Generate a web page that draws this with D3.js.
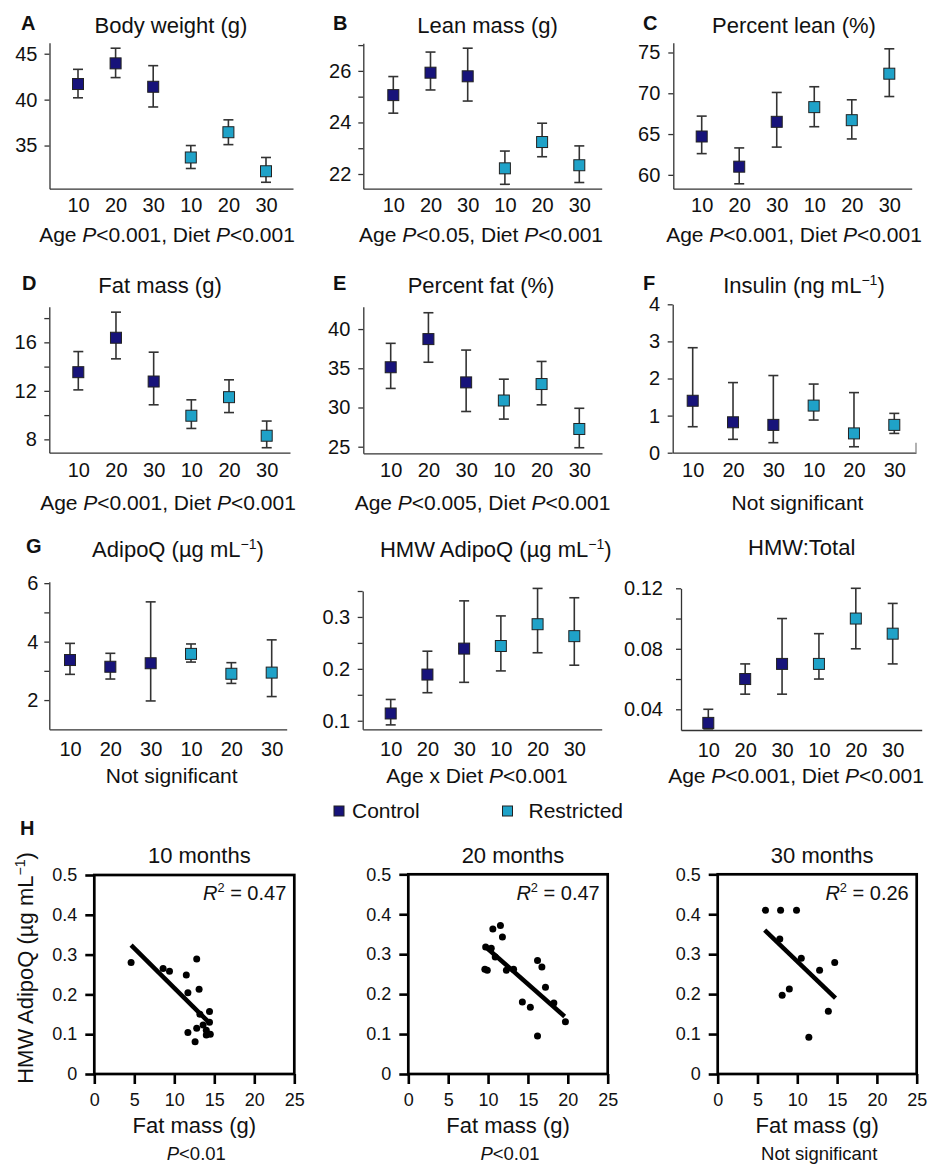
<!DOCTYPE html>
<html>
<head>
<meta charset="utf-8">
<script src="https://cdn.jsdelivr.net/npm/d3@7"></script>
<style>
  body { margin: 0; background: #fff; }
  svg { display: block; font-family: "Liberation Sans", Arial, sans-serif; }
</style>
</head>
<body>
<svg id="fig" width="928" height="1164"></svg>
<script>
// ---- data ----
const ageLabels = ['10', '20', '30', '10', '20', '30'];
const groupOf = ['Control', 'Control', 'Control', 'Restricted', 'Restricted', 'Restricted'];
const groups = ['Control', 'Restricted'];

// rows: [mean, lower, upper]  order: Control 10/20/30, Restricted 10/20/30
const bodyWeight = [[41.7, 40.2, 43.3], [43.95, 42.4, 45.6], [41.4, 39.2, 43.7], [33.7, 32.5, 35.0], [36.45, 35.1, 37.8], [32.2, 31.0, 33.7]];
const leanMass = [[25.06, 24.36, 25.78], [25.93, 25.26, 26.73], [25.79, 24.83, 26.88], [22.22, 21.6, 22.89], [23.24, 22.67, 23.97], [22.34, 21.67, 23.09]];
const percentLean = [[64.7, 62.6, 67.2], [61.0, 58.9, 63.3], [66.5, 63.4, 70.1], [68.3, 65.9, 70.8], [66.7, 64.4, 69.2], [72.4, 69.6, 75.45]];
const fatMass = [[13.54, 12.08, 15.24], [16.38, 14.64, 18.49], [12.77, 10.85, 15.19], [9.95, 8.9, 11.26], [11.48, 10.21, 12.91], [8.3, 7.31, 9.51]];
const percentFat = [[35.13, 32.43, 38.18], [38.72, 35.77, 42.08], [33.2, 29.49, 37.32], [30.89, 28.52, 33.61], [32.99, 30.34, 35.87], [27.26, 24.87, 29.9]];
const insulin = [[1.40, 0.70, 2.83], [0.82, 0.36, 1.89], [0.75, 0.27, 2.08], [1.27, 0.88, 1.85], [0.52, 0.16, 1.62], [0.75, 0.52, 1.06]];
const adipoQ = [[3.37, 2.88, 3.94], [3.14, 2.72, 3.6], [3.26, 1.97, 5.36], [3.58, 3.3, 3.92], [2.9, 2.57, 3.28], [2.94, 2.12, 4.06]];
const hmwAdipoQ = [[0.114, 0.092, 0.141], [0.189, 0.154, 0.234], [0.239, 0.174, 0.331], [0.244, 0.196, 0.302], [0.286, 0.231, 0.355], [0.263, 0.207, 0.337]];
const hmwTotal = [[0.031, 0.027, 0.04], [0.06, 0.05, 0.07], [0.07, 0.05, 0.1], [0.07, 0.06, 0.09], [0.1, 0.08, 0.12], [0.09, 0.07, 0.11]];

// y tick labels
const ticksA = [35, 40, 45];
const ticksB = [22, 24, 26], minorB = [23, 25, 27];
const ticksC = [60, 65, 70, 75];
const ticksD = [8, 12, 16], minorD = [10, 14, 18];
const ticksE = [25, 30, 35, 40];
const ticksF = [0, 1, 2, 3, 4];
const ticksG = [2, 4, 6], minorG = [3, 5];
const ticksHmw = [0.1, 0.2, 0.3], minorHmw = [0.15, 0.25, 0.35];
const ticksRatio = [0.04, 0.08, 0.12], minorRatio = [0.06, 0.10];

// panel H: fat mass (g) vs HMW AdipoQ
const fatTicks = [0, 5, 10, 15, 20, 25];
const hmwTicks = [0, 0.1, 0.2, 0.3, 0.4, 0.5];
const months = ['10 months', '20 months', '30 months'];
const r2Values = ['0.47', '0.47', '0.26'];
const scatter10 = [[4.6, 0.28], [8.6, 0.265], [9.4, 0.258], [11.5, 0.249], [12.8, 0.289], [11.7, 0.204], [13.1, 0.213], [14.4, 0.157],
  [11.7, 0.104], [12.8, 0.115], [12.6, 0.081], [13.6, 0.123], [14.0, 0.098], [14.5, 0.100], [14.4, 0.13], [14.0, 0.11], [13.2, 0.15]];
const scatter20 = [[9.6, 0.262], [9.9, 0.26], [10.6, 0.363], [11.55, 0.372], [11.8, 0.343], [9.7, 0.318], [10.4, 0.315], [10.9, 0.293],
  [12.3, 0.26], [13.2, 0.262], [14.3, 0.18], [15.3, 0.167], [16.2, 0.284], [16.75, 0.268], [17.2, 0.217], [18.25, 0.178], [16.2, 0.095], [19.7, 0.131]];
const scatter30 = [[6.0, 0.41], [7.9, 0.41], [9.9, 0.41], [7.8, 0.338], [10.5, 0.29], [12.8, 0.26], [14.7, 0.279], [8.1, 0.197],
  [9.0, 0.213], [13.9, 0.157], [11.45, 0.092]];
const fit10 = [[4.6, 0.324], [14.46, 0.127]];
const fit20 = [[9.6, 0.32], [19.6, 0.144]];
const fit30 = [[5.9, 0.36], [14.8, 0.19]];

// ---- styling ----
const colors = { Control: '#17137a', Restricted: '#1fa2c8' };
const ink = '#111';
const axisCol = '#333';

const svg = d3.select('#fig');

// text with italic / superscript pieces
function rich(text, segs) {
  let shift = 0;
  segs.forEach(s => {
    const t = text.append('tspan');
    if (shift) { t.attr('dy', shift); shift = 0; }
    if (typeof s === 'string') t.text(s);
    else if (s[1] === 'i') t.attr('font-style', 'italic').text(s[0]);
    else if (s[1] === 'sup') { t.attr('font-size', '0.64em').attr('dy', -8).text(s[0]); shift = 8; }
  });
  return text;
}

const ageDiet = (a, d) => ['Age ', ['P', 'i'], '<' + a + ', Diet ', ['P', 'i'], '<' + d];

const panels = [
  { letter: 'A', title: ['Body weight (g)'], cap: ageDiet('0.001', '0.001'), data: bodyWeight, ticks: ticksA, minor: [],
    domain: [30.3, 46.2], ax: 49.5, ex: 293, top: 42.7, bot: 188.7, p0: 78, p1: 266, tx: 171, ty: 33, lx: 21, cx: 167, cy: 241.7, tickDy: 23.5, gap: 12 },
  { letter: 'B', title: ['Lean mass (g)'], cap: ageDiet('0.05', '0.001'), data: leanMass, ticks: ticksB, minor: minorB,
    domain: [21.43, 27.07], ax: 363.3, ex: 601.7, top: 43.3, bot: 188.7, p0: 393.3, p1: 579.3, tx: 487.5, ty: 33, lx: 333, cx: 481, cy: 241.7, tickDy: 23.5, gap: 12 },
  { letter: 'C', title: ['Percent lean (%)'], cap: ageDiet('0.001', '0.001'), data: percentLean, ticks: ticksC, minor: [],
    domain: [58.3, 76.2], ax: 673.3, ex: 911.7, top: 42.7, bot: 188.7, p0: 701.7, p1: 889.3, tx: 794, ty: 33, lx: 643, cx: 794, cy: 241.7, tickDy: 23.5, gap: 13 },
  { letter: 'D', title: ['Fat mass (g)'], cap: ageDiet('0.001', '0.001'), data: fatMass, ticks: ticksD, minor: minorD,
    domain: [6.9, 18.94], ax: 49.3, ex: 290, top: 306.7, bot: 452.7, p0: 78.3, p1: 266.7, tx: 160, ty: 293, lx: 22, cx: 168, cy: 510, tickDy: 24, gap: 12.5 },
  { letter: 'E', title: ['Percent fat (%)'], cap: ageDiet('0.005', '0.001'), data: percentFat, ticks: ticksE, minor: [],
    domain: [24.16, 42.85], ax: 363.3, ex: 602, top: 306.7, bot: 453.3, p0: 390.7, p1: 579.3, tx: 481, ty: 293, lx: 333, cx: 482.5, cy: 510, tickDy: 24, gap: 13 },
  { letter: 'F', title: ['Insulin (ng mL', ['\u22121', 'sup'], ')'], cap: ['Not significant'], data: insulin, ticks: ticksF, minor: [],
    domain: [0, 4], ax: 672.7, ex: 916, top: 304.3, bot: 452.7, p0: 692.7, p1: 894.3, tx: 804, ty: 293, lx: 643, cx: 797.5, cy: 510, tickDy: 24, gap: 12.5, stub: true },
  { letter: 'G', title: ['AdipoQ (\u00b5g mL', ['\u22121', 'sup'], ')'], cap: ['Not significant'], data: adipoQ, ticks: ticksG, minor: minorG,
    domain: [1, 6.05], ax: 49.3, ex: 286.7, top: 581.7, bot: 729.3, p0: 70, p1: 271.7, tx: 178, ty: 556.7, lx: 26, cx: 171.7, cy: 782.7, tickDy: 27, gap: 11 },
  { letter: '', title: ['HMW AdipoQ (\u00b5g mL', ['\u22121', 'sup'], ')'], cap: ['Age x Diet ', ['P', 'i'], '<0.001'], data: hmwAdipoQ, ticks: ticksHmw, minor: minorHmw,
    domain: [0.0835, 0.35], ax: 362.7, ex: 601.7, top: 591, bot: 729.3, p0: 390.7, p1: 574.3, tx: 495.8, ty: 556.7, lx: 0, cx: 477, cy: 782.7, tickDy: 27, gap: 12.5 },
  { letter: '', title: ['HMW:Total'], cap: ageDiet('0.001', '0.001'), data: hmwTotal, ticks: ticksRatio, minor: minorRatio,
    domain: [0.0263, 0.12], ax: 681, ex: 921.7, top: 588.3, bot: 730, p0: 708.3, p1: 892.7, tx: 801.7, ty: 555, lx: 0, cx: 796, cy: 782.7, tickDy: 27, gap: 18 }
];

panels.forEach(p => {
  const g = svg.append('g');
  const x = d3.scalePoint().domain(d3.range(p.data.length)).range([p.p0, p.p1]);
  const y = d3.scaleLinear().domain(p.domain).range([p.bot, p.top]);
  const fmt = d3.format('~g');

  // y axis with labelled ticks
  const yG = g.append('g').attr('transform', `translate(${p.ax},0)`)
    .call(d3.axisLeft(y).tickValues(p.ticks).tickSize(5).tickSizeOuter(0).tickPadding(p.gap - 5)
      .tickFormat(d => p.ticks === ticksRatio ? d3.format('.2f')(d) : fmt(d)));
  // minor ticks
  if (p.minor.length) {
    const mG = g.append('g').attr('transform', `translate(${p.ax},0)`)
      .call(d3.axisLeft(y).tickValues(p.minor).tickSize(5).tickFormat(''));
    mG.select('.domain').remove();
    mG.selectAll('line').attr('stroke', axisCol).attr('stroke-width', 1.3);
  }
  // x baseline
  const xLine = d3.scaleLinear().range([p.ax, p.ex]);
  const bG = g.append('g').attr('transform', `translate(0,${p.bot})`)
    .call(d3.axisBottom(xLine).tickValues([]).tickSizeOuter(0));
  // age labels
  const xG = g.append('g').attr('transform', `translate(0,${p.bot})`)
    .call(d3.axisBottom(x).tickSize(0).tickPadding(p.tickDy - 14.2).tickFormat(i => ageLabels[i]));
  xG.select('.domain').remove();

  [yG, bG, xG].forEach(a => {
    a.attr('font-family', null).attr('font-size', null);
    a.selectAll('.domain, line').attr('stroke', axisCol).attr('stroke-width', 1.3);
    a.selectAll('text').attr('font-size', 20).attr('fill', ink);
  });

  if (p.stub) {
    g.append('line').attr('x1', p.ex).attr('x2', p.ex).attr('y1', p.bot).attr('y2', p.bot - 10)
      .attr('stroke', '#888').attr('stroke-width', 1.3);
  }

  // error bars + squares
  const pt = g.selectAll('.pt').data(p.data).join('g').attr('class', 'pt')
    .attr('transform', (d, i) => `translate(${x(i)},0)`);
  pt.append('line').attr('y1', d => y(d[1])).attr('y2', d => y(d[2]))
    .attr('stroke', axisCol).attr('stroke-width', 1.6);
  pt.selectAll('.cap').data(d => [d[1], d[2]]).join('line').attr('class', 'cap')
    .attr('x1', -5).attr('x2', 5).attr('y1', v => y(v)).attr('y2', v => y(v))
    .attr('stroke', axisCol).attr('stroke-width', 1.6);
  pt.append('rect').attr('x', -5.5).attr('y', d => y(d[0]) - 5.5).attr('width', 11).attr('height', 11)
    .attr('fill', (d, i) => colors[groupOf[i]]).attr('stroke', '#222').attr('stroke-width', 1);

  // titles, panel letter, caption
  rich(g.append('text').attr('x', p.tx).attr('y', p.ty).attr('text-anchor', 'middle')
    .attr('font-size', 22).attr('fill', ink), p.title);
  if (p.letter) {
    g.append('text').attr('x', p.lx).attr('y', p.ty - 3.5).attr('font-size', 20).attr('font-weight', 'bold')
      .attr('fill', ink).text(p.letter);
  }
  rich(g.append('text').attr('x', p.cx).attr('y', p.cy).attr('text-anchor', 'middle')
    .attr('font-size', 21).attr('fill', ink), p.cap);
});

// ---- legend ----
const legendPos = [{ sx: 334, tx: 352 }, { sx: 502.5, tx: 528.5 }];
groups.forEach((gr, i) => {
  svg.append('rect').attr('x', legendPos[i].sx).attr('y', 806).attr('width', 10).attr('height', 10)
    .attr('fill', colors[gr]).attr('stroke', '#222').attr('stroke-width', 1);
  svg.append('text').attr('x', legendPos[i].tx).attr('y', 817.5).attr('font-size', 21).attr('fill', ink).text(gr);
});

// ---- panel H ----
const hPanels = [
  { l: 94.3, r: 294.3, t: 875, b: 1074, pts: scatter10, fit: fit10, cap: [['P', 'i'], '<0.01'] },
  { l: 408.3, r: 607.7, t: 874.3, b: 1074, pts: scatter20, fit: fit20, cap: [['P', 'i'], '<0.01'] },
  { l: 717.7, r: 916.7, t: 874.3, b: 1074, pts: scatter30, fit: fit30, cap: ['Not significant'] }
];

hPanels.forEach((h, k) => {
  const g = svg.append('g');
  const x = d3.scaleLinear().domain([0, 25]).range([h.l, h.r]);
  const y = d3.scaleLinear().domain([0, 0.5]).range([h.b, h.t]);
  const cx = (h.l + h.r) / 2;

  const yG = g.append('g').attr('transform', `translate(${h.l},0)`)
    .call(d3.axisLeft(y).tickValues(hmwTicks).tickSize(9).tickPadding(8).tickFormat(d3.format('~g')));
  const xG = g.append('g').attr('transform', `translate(0,${h.b})`)
    .call(d3.axisBottom(x).tickValues(fatTicks).tickSize(10).tickPadding(9.5));
  [yG, xG].forEach(a => {
    a.attr('font-family', null).attr('font-size', null);
    a.select('.domain').remove();
    a.selectAll('line').attr('stroke', '#000').attr('stroke-width', 2.6);
    a.selectAll('text').attr('font-size', 18).attr('fill', ink);
  });

  g.append('rect').attr('x', h.l).attr('y', h.t).attr('width', h.r - h.l).attr('height', h.b - h.t)
    .attr('fill', 'none').attr('stroke', '#000').attr('stroke-width', 2.7);

  g.append('line').attr('x1', x(h.fit[0][0])).attr('y1', y(h.fit[0][1]))
    .attr('x2', x(h.fit[1][0])).attr('y2', y(h.fit[1][1]))
    .attr('stroke', '#000').attr('stroke-width', 4.5);

  g.selectAll('circle').data(h.pts).join('circle')
    .attr('cx', d => x(d[0])).attr('cy', d => y(d[1])).attr('r', 3.5).attr('fill', '#000');

  rich(g.append('text').attr('x', h.r - 8).attr('y', 900).attr('text-anchor', 'end')
    .attr('font-size', 20).attr('fill', ink), [['R', 'i'], ['2', 'sup'], ' = ' + r2Values[k]]);

  g.append('text').attr('x', cx + 5).attr('y', 863.3).attr('text-anchor', 'middle')
    .attr('font-size', 22).attr('fill', ink).text(months[k]);
  g.append('text').attr('x', cx).attr('y', 1133.3).attr('text-anchor', 'middle')
    .attr('font-size', 22).attr('fill', ink).text('Fat mass (g)');
  rich(g.append('text').attr('x', cx + 2).attr('y', 1160).attr('text-anchor', 'middle')
    .attr('font-size', 18.5).attr('fill', ink), h.cap);
});

svg.append('text').attr('x', 20).attr('y', 835).attr('font-size', 20).attr('font-weight', 'bold')
  .attr('fill', ink).text('H');
rich(svg.append('text').attr('transform', 'translate(33,968) rotate(-90)').attr('text-anchor', 'middle')
  .attr('font-size', 22).attr('fill', ink), ['HMW AdipoQ (\u00b5g mL', ['\u22121', 'sup'], ')']);
</script>
</body>
</html>
